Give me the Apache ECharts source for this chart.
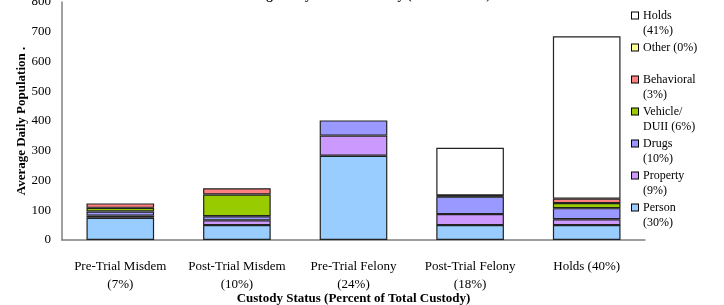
<!DOCTYPE html>
<html>
<head>
<meta charset="utf-8">
<script src="https://cdn.jsdelivr.net/npm/echarts@6/dist/echarts.min.js"></script>
<style>
  html, body { margin: 0; padding: 0; background: #fff; }
  #chart { width: 724px; height: 305px; }
</style>
</head>
<body>
<div id="chart"></div>
<script>
// custody status categories (x axis)
const categories = [
  'Pre-Trial Misdem\n(7%)',
  'Post-Trial Misdem\n(10%)',
  'Pre-Trial Felony\n(24%)',
  'Post-Trial Felony\n(18%)',
  'Holds (40%)'
]

// offense types, stacked bottom -> top
const seriesNames = ['Person', 'Property', 'Drugs', 'Vehicle/DUII', 'Behavioral', 'Other', 'Holds']
const legendLabels = ['Person\n(30%)', 'Property\n(9%)', 'Drugs\n(10%)', 'Vehicle/\nDUII (6%)', 'Behavioral\n(3%)', 'Other (0%)\n', 'Holds\n(41%)']
const colors = ['#99CCFF', '#CC99FF', '#9999FF', '#99CC00', '#FF8080', '#FFFF99', '#FFFFFF']

// average daily population per category
const person     = [75, 50, 283, 50, 50]
const property   = [7, 16, 68, 37, 20]
const drugs      = [14, 14, 51, 59, 37]
const vehicle    = [12, 73, 0, 2, 17]
const behavioral = [15, 21, 0, 2, 15]
const other      = [0, 0, 0, 0, 0]
const holds      = [0, 0, 0, 160, 546]

const seriesValues = [person, property, drugs, vehicle, behavioral, other, holds]

const font = '"Liberation Serif", "Times New Roman", serif'

const chart = echarts.init(document.getElementById('chart'))

// rich styles for legend boxes (one per series)
const rich = { sp: { width: 5 }, sp2: { width: 11 } }
seriesNames.forEach((n, i) => {
  rich['b' + i] = {
    width: 6,
    height: 6,
    backgroundColor: colors[i],
    borderColor: '#000',
    borderWidth: 1,
    padding: 0
  }
})
rich.t = { fontFamily: font, fontSize: 12, color: '#000', lineHeight: 15 }

const option = {
  backgroundColor: '#fff',
  animation: false,
  title: {
    text: 'Average Daily Inmate Custody (Jan-Dec 2008)',
    left: 'center',
    top: -16,
    textStyle: { fontFamily: font, fontSize: 13, fontWeight: 'bold', color: '#000' }
  },
  grid: {
    left: 62,
    right: 79,
    top: 2,
    bottom: 65,
    outerBoundsMode: 'none'
  },
  legend: {
    orient: 'vertical',
    left: 622,
    top: 3,
    icon: 'none',
    itemWidth: 0,
    itemHeight: 6,
    itemGap: 2,
    selectedMode: false,
    data: seriesNames.slice().reverse(),
    formatter: function (name) {
      const i = seriesNames.indexOf(name)
      const lines = legendLabels[i].split('\n')
      return '{b' + i + '|}{sp|}{t|' + lines[0] + '}\n{sp2|}{t|' + (lines[1] || ' ') + '}'
    },
    textStyle: {
      fontFamily: font,
      fontSize: 12,
      lineHeight: 15,
      color: '#000',
      rich: rich
    }
  },
  xAxis: {
    type: 'category',
    data: categories,
    name: 'Custody Status (Percent of Total Custody)',
    nameLocation: 'middle',
    nameGap: 52,
    nameMoveOverlap: false,
    nameTextStyle: { fontFamily: font, fontSize: 13, fontWeight: 'bold', color: '#000' },
    axisLine: { lineStyle: { color: '#808080', width: 1.5 } },
    axisTick: { show: false },
    axisLabel: {
      interval: 0,
      margin: 18,
      fontFamily: font,
      fontSize: 13,
      lineHeight: 18,
      color: '#000'
    }
  },
  yAxis: {
    type: 'value',
    min: 0,
    max: 800,
    interval: 100,
    name: 'Average Daily Population .',
    nameLocation: 'middle',
    nameGap: 34,
    nameMoveOverlap: false,
    nameTextStyle: { fontFamily: font, fontSize: 13, fontWeight: 'bold', color: '#000' },
    axisLine: { show: true, lineStyle: { color: '#808080', width: 1.5 } },
    axisTick: { show: false },
    splitLine: { show: false },
    axisLabel: { fontFamily: font, fontSize: 13, color: '#000', margin: 11 }
  },
  series: seriesNames.map((name, i) => ({
    name: name,
    type: 'bar',
    stack: 'custody',
    barWidth: '58%',
    data: seriesValues[i].map(v => (v === 0 ? null : v)),
    itemStyle: {
      color: colors[i],
      borderColor: '#222',
      borderWidth: 1.2
    }
  }))
}

chart.setOption(option)
</script>
</body>
</html>
